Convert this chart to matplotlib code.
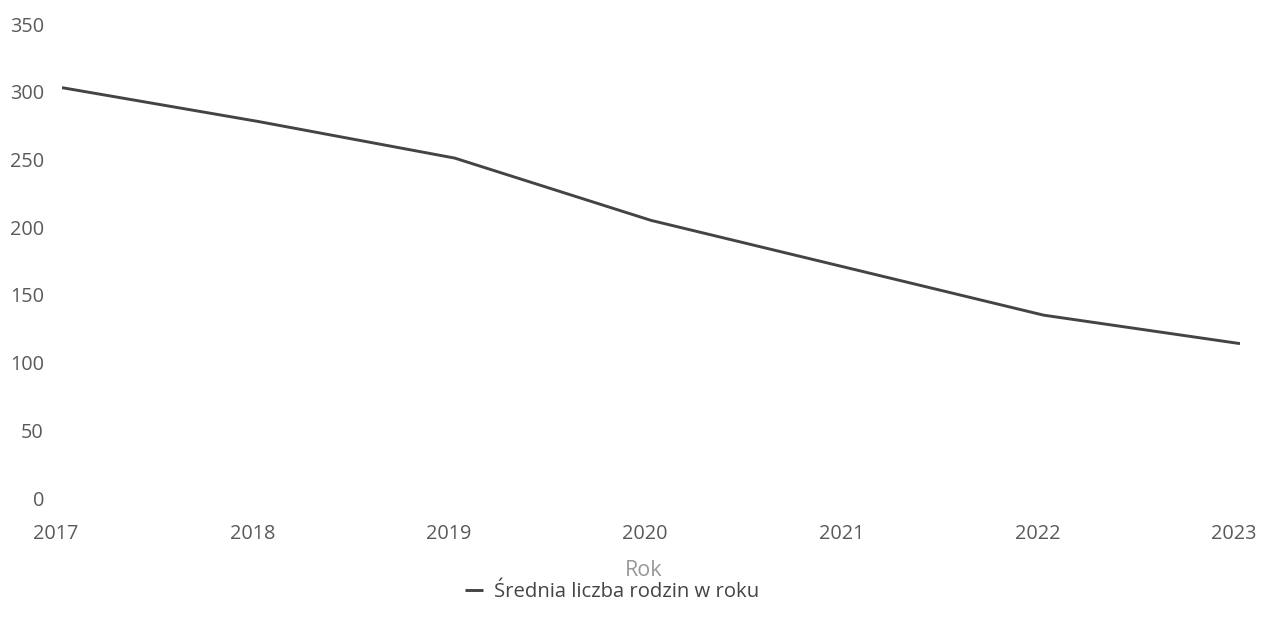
import matplotlib
matplotlib.use("Agg")
import matplotlib.pyplot as plt
import matplotlib.transforms as mtransforms

years = ["2017", "2018", "2019", "2020", "2021", "2022", "2023"]
values = [303, 278, 251, 205, 170, 135, 114]
series_name = "Średnia liczba rodzin w roku"
x_label = "Rok"
y_ticks = [0, 50, 100, 150, 200, 250, 300, 350]

plt.rcParams['font.family'] = ['Open Sans', 'DejaVu Sans']

W, H = 1262, 627
fig = plt.figure(figsize=(W / 100, H / 100), dpi=100)
left, right = 62 / W, 1240 / W
bottom, top = (H - 498) / H, (H - 24) / H
ax = fig.add_axes([left, bottom, right - left, top - bottom])

xs = list(range(len(years)))
line, = ax.plot(xs, values, color="#444444", lw=2.1, solid_capstyle="butt",
                label=series_name)

ax.set_xlim(0, len(years) - 1)
ax.set_ylim(0, 350)
ax.set_yticks(y_ticks)
ax.set_yticklabels([str(v) for v in y_ticks])
ax.set_xticks(xs)
ax.set_xticklabels(years)

for s in ax.spines.values():
    s.set_visible(False)
ax.tick_params(axis="both", length=0, labelsize=14.3, labelcolor="#5a5a5a")
ax.tick_params(axis="y", pad=13)
ax.tick_params(axis="x", pad=19)

offset = mtransforms.ScaledTranslation(-6 / 100, 0, fig.dpi_scale_trans)
for lbl in ax.get_xticklabels():
    lbl.set_transform(lbl.get_transform() + offset)

fig.text(644 / W, 1 - 571 / H, x_label, ha="center", va="center",
         fontsize=15.5, color="#999999")

leg = fig.legend(handles=[line], loc="center", bbox_to_anchor=(612 / W, 1 - 592 / H),
                 frameon=False, fontsize=14.6, handlelength=0.9, handletextpad=0.5,
                 labelcolor="#444444")

fig.savefig("out.png", dpi=100)
